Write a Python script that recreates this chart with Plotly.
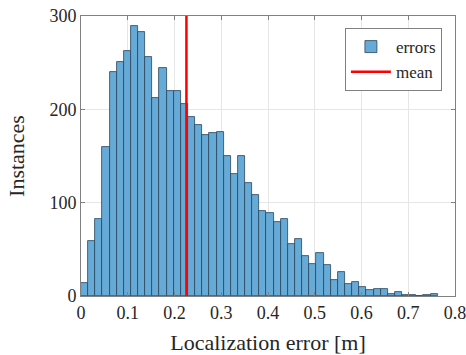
import plotly.graph_objects as go

# Histogram counts per bin
counts = [14, 59, 83, 160, 240, 251, 262, 289, 283, 256,
          212, 244, 220, 220, 206, 192, 183, 173, 175, 176,
          150, 131, 150, 121, 108, 91, 89, 79, 82, 56,
          61, 43, 34, 46, 33, 17, 26, 13, 15, 10,
          6, 8, 7, 2, 4, 1, 1, 0, 1, 2]
bin_start = 0.0
bin_width = 0.01526
mean_error = 0.2255
y_max = 300
x_ticks = [0, 0.1, 0.2, 0.3, 0.4, 0.5, 0.6, 0.7, 0.8]
x_tick_labels = ["0", "0.1", "0.2", "0.3", "0.4", "0.5", "0.6", "0.7", "0.8"]
y_ticks = [0, 100, 200, 300]

centers = [bin_start + (i + 0.5) * bin_width for i in range(len(counts))]

font_family = "Liberation Serif, Times New Roman, serif"

fig = go.Figure()
fig.add_trace(go.Bar(
    x=centers, y=counts, width=bin_width, name="errors",
    marker=dict(color="#66AAD7", line=dict(color="#2b4459", width=0.8)),
))
fig.add_trace(go.Scatter(
    x=[mean_error, mean_error], y=[0, y_max], mode="lines", name="mean",
    line=dict(color="#FF0000", width=2.5),
))

axis_common = dict(
    showgrid=True, gridcolor="#e6e6e6", gridwidth=1,
    showline=True, linecolor="#808080", linewidth=1, mirror="ticks",
    ticks="inside", ticklen=4, tickcolor="#808080",
    tickfont=dict(family=font_family, size=18, color="#262626"),
    zeroline=False, automargin=False, ticklabeloverflow="allow",
)

fig.update_layout(
    width=466, height=355,
    margin=dict(l=81, r=11, t=16, b=59),
    paper_bgcolor="white", plot_bgcolor="white",
    bargap=0,
    font=dict(family=font_family, color="#262626"),
    showlegend=True,
    legend=dict(
        x=0.965, y=0.957, xanchor="right", yanchor="top",
        bgcolor="white", bordercolor="#808080", borderwidth=1,
        font=dict(family=font_family, size=17, color="#262626"),
        tracegroupgap=0, itemwidth=40,
    ),
    xaxis=dict(axis_common, range=[0, 0.8], tickvals=x_ticks, ticktext=x_tick_labels,
               title=dict(text="Localization error [m]", font=dict(size=22, family=font_family), standoff=13)),
    yaxis=dict(axis_common, range=[0, y_max], tickvals=y_ticks,
               title=dict(text="Instances", font=dict(size=22, family=font_family), standoff=18)),
)

# remove the default 8px page margin so the figure fills the window exactly
fig.write_html("out.html", config={"displayModeBar": False},
               post_script="document.body.style.margin='0';")
